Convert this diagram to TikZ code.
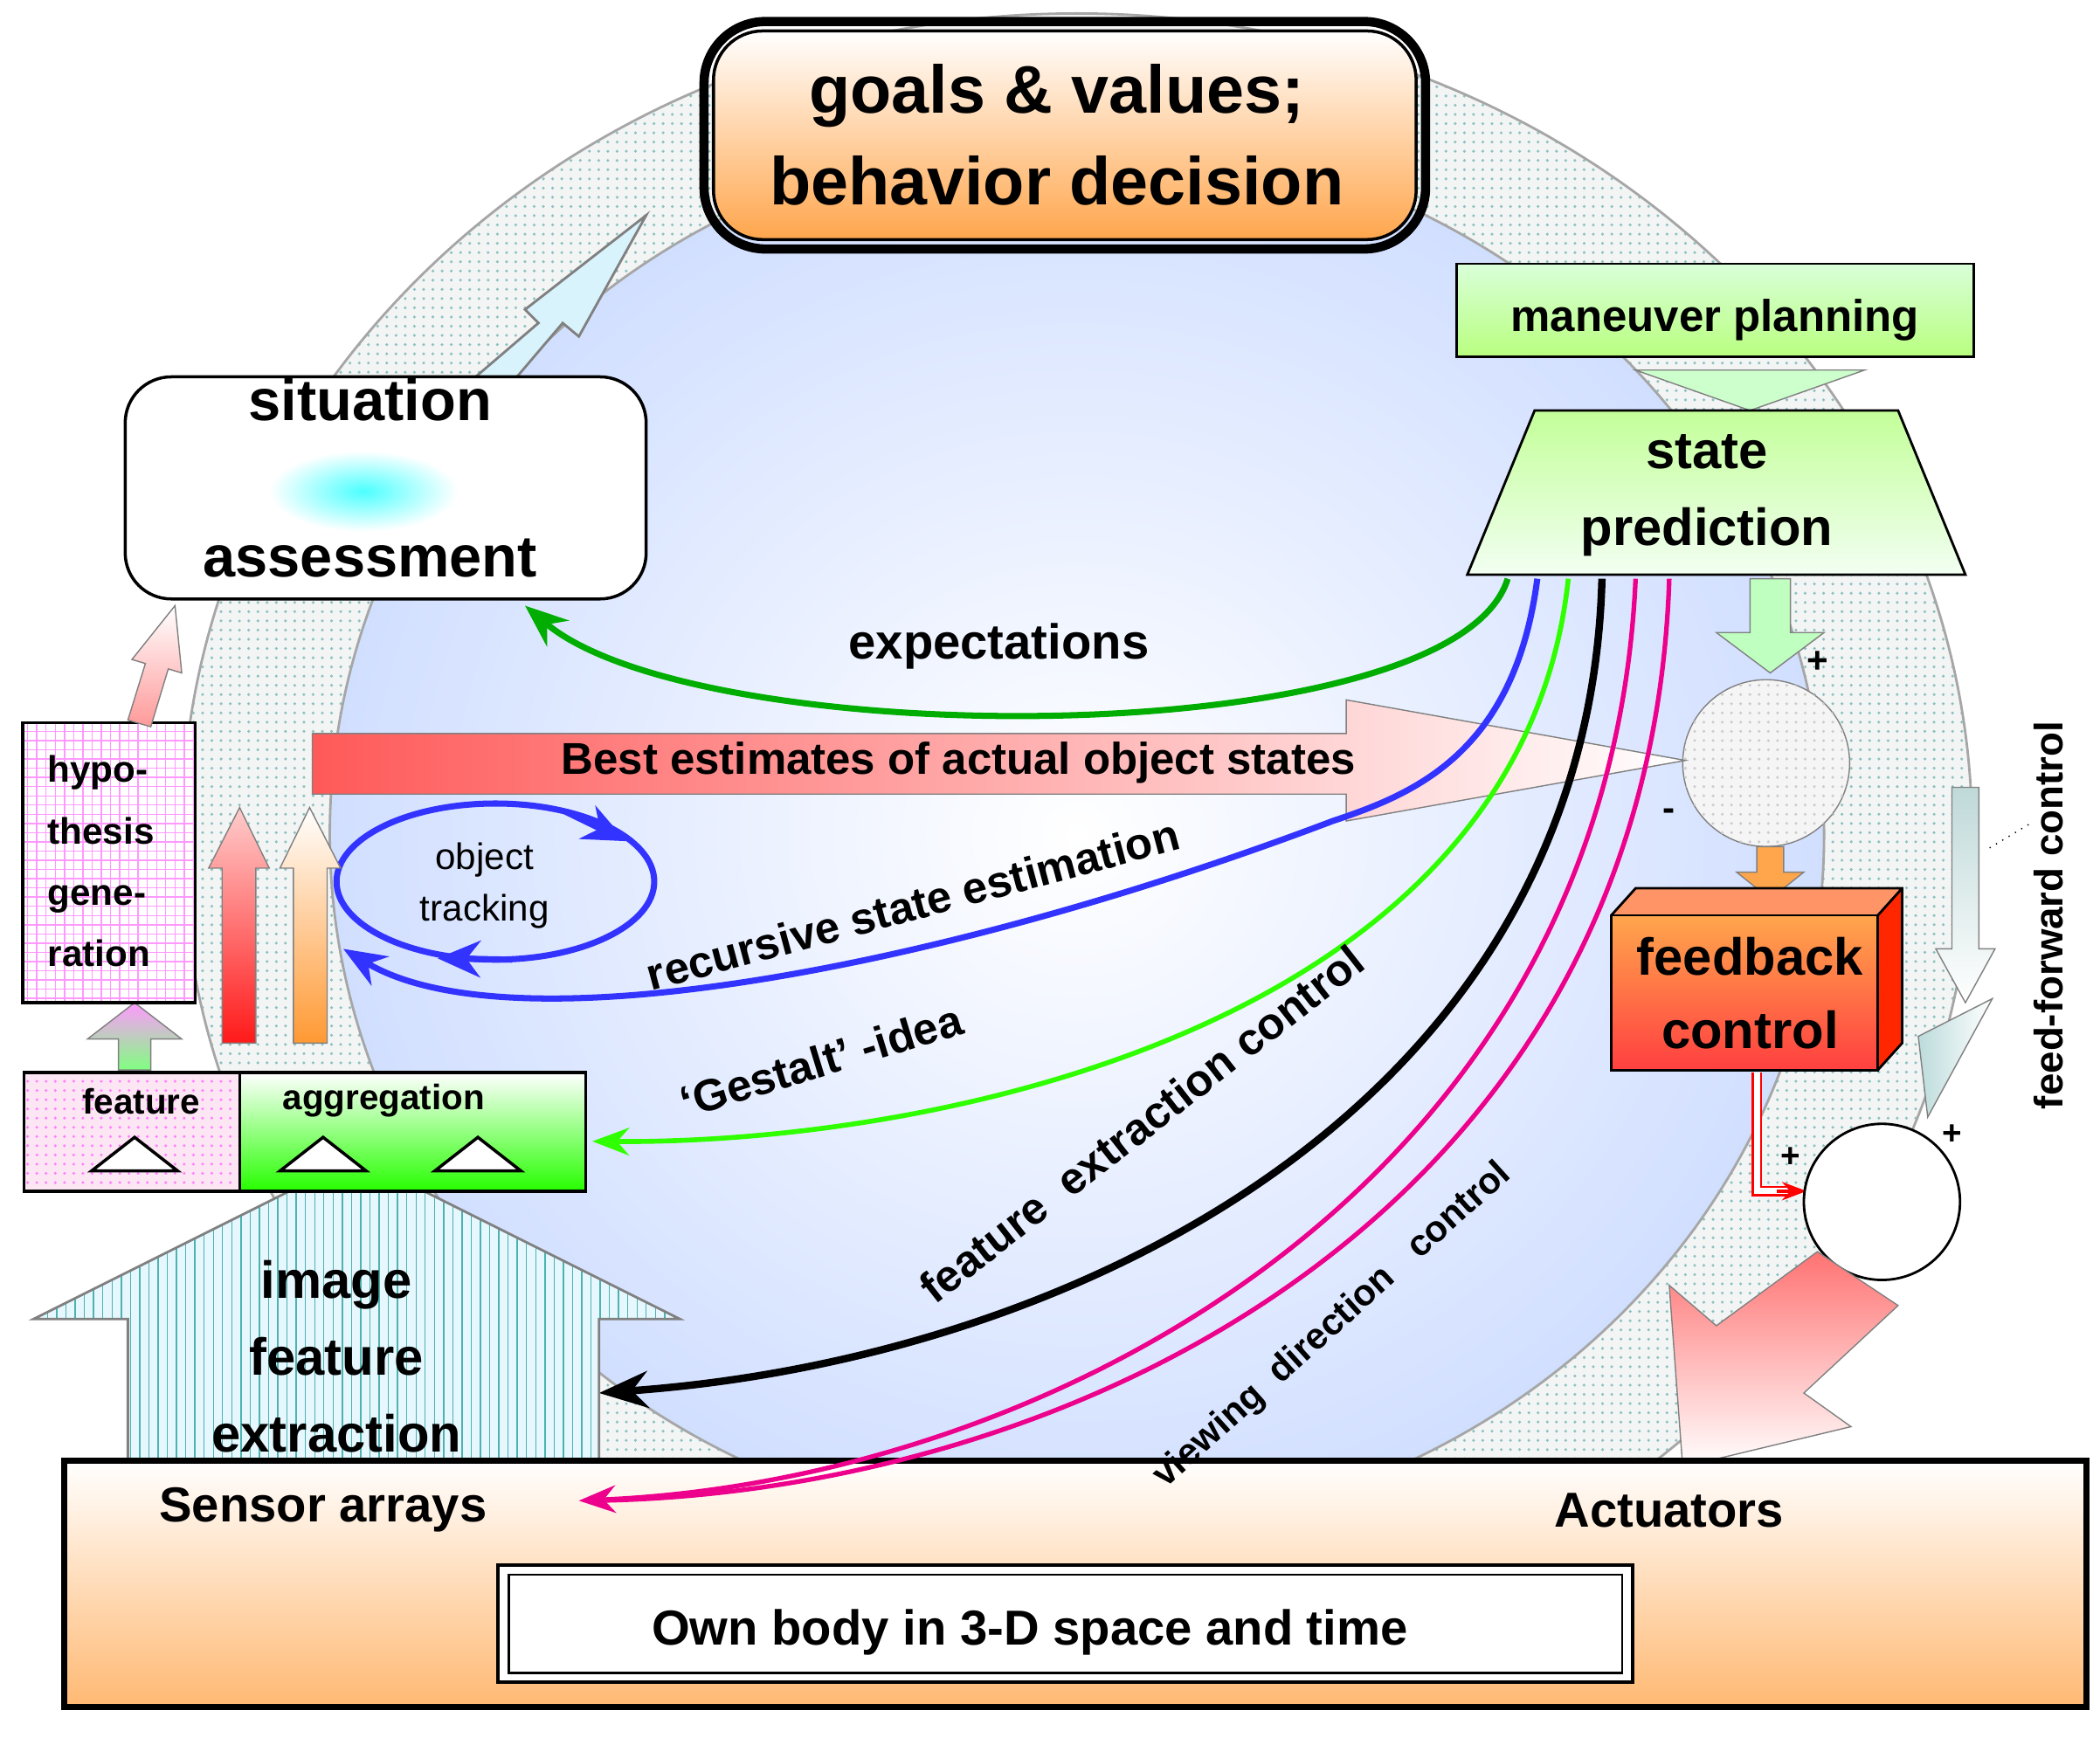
\documentclass[tikz,border=0pt]{standalone}
\usepackage{fontspec}
\setmainfont{Liberation Sans}
\usetikzlibrary{arrows.meta,patterns,shapes.geometric,shadows}
\begin{document}
\begin{tikzpicture}[x=0.01541cm,y=-0.01541cm,
  fs/.style={font=\fontsize{#1}{#1}\selectfont\bfseries}]
\useasboundingbox (0,0) rectangle (1560,1296);
\fill[white] (0,0) rectangle (1560,1296);
% ring
\fill[cyan!5!gray!10] (800,620) ellipse [x radius=665,y radius=610];
\fill[pattern=dots,pattern color=cyan!30!gray!70] (800,620) ellipse [x radius=665,y radius=610];
\draw[gray!70,line width=0.8pt] (800,620) ellipse [x radius=665,y radius=610];
\shade[inner color=white,outer color=cyan!30!blue!18] (800,620) ellipse [x radius=555,y radius=520];
\draw[gray!70,line width=0.8pt] (800,620) ellipse [x radius=555,y radius=520];
% top-left hollow arrow
\draw[fill=cyan!15,line width=0.8pt,draw=gray] (330,300)--(400,240)--(390,230)--(480,160)--(430,250)--(418,240)--(350,320)--cycle;
% goals
\draw[line width=3pt,rounded corners=20pt] (523,16) rectangle (1059,185);
\shade[top color=white,bottom color=orange!70,rounded corners=16pt,draw=black,line width=1pt] (530,23) rectangle (1052,178);
\node[fs=22,align=center] (goals) at (785,100) {goals \& values;\\[8pt]behavior decision};
% situation
\draw[rounded corners=15pt,fill=white,line width=1pt] (93,280) rectangle (480,445);
\shade[inner color=cyan!70,outer color=white] (270,365) ellipse [x radius=70,y radius=30];
\node[fs=19,align=center] (sit) at (275,355) {situation\\[32pt]assessment};
% maneuver planning
\shade[top color=green!15,bottom color=green!40!lime!50,draw=black,line width=0.8pt] (1082,196) rectangle (1466,265);
\node[fs=14.5] (man) at (1274,238) {maneuver planning};
\draw[fill=green!20,draw=gray] (1215,275)--(1385,275)--(1300,305)--cycle;
% state prediction
\shade[top color=green!45!lime!40,bottom color=green!5,draw=black,line width=0.8pt] (1140,305)--(1410,305)--(1460,427)--(1090,427)--cycle;
\node[fs=17,align=center] (sp) at (1268,368) {state\\[8pt]prediction};
% down hollow arrow to sum1
\draw[fill=green!25,draw=gray] (1300,430)--(1330,430)--(1330,470)--(1355,470)--(1315,500)--(1275,470)--(1300,470)--cycle;
% sum circle 1
\draw[gray,fill=gray!8] (1312,567) circle [radius=62];
\fill[pattern=dots,pattern color=gray!40] (1312,567) circle [radius=62];
\node (s1) at (1312,567) {};
\node[fs=12] at (1350,492) {+};
\node[fs=12] at (1240,605) {-};
% orange arrow
\draw[fill=orange!70,draw=gray] (1305,629)--(1325,629)--(1325,648)--(1340,648)--(1315,668)--(1290,648)--(1305,648)--cycle;
% feedback box
\fill[orange!60!red!60] (1197,680)--(1215,660)--(1413,660)--(1395,680)--cycle;
\fill[red!70!orange] (1395,680)--(1413,660)--(1413,775)--(1395,795)--cycle;
\draw[line width=0.8pt] (1197,680)--(1215,660)--(1413,660)--(1413,775)--(1395,795) (1395,680)--(1413,660);
\shade[top color=orange!70,bottom color=red!75,draw=black,line width=0.8pt] (1197,680) rectangle (1395,795);
\node[fs=17,align=center] (fb) at (1300,738) {feedback\\[7pt]control};
% feedback to sum2
\draw[red,double=white,double distance=2pt,line width=0.7pt] (1305,797)--(1305,885)--(1328,885);
\draw[red,-{Stealth[length=8pt]},line width=1pt] (1320,885)--(1342,885);
\node[fs=11] at (1330,860) {+};
% sum circle 2
\draw[black,fill=white,line width=0.8pt] (1398,893) circle [radius=58];
\node (s2) at (1398,893) {};
\node[fs=11] at (1450,843) {+};
% big pink arrow from sum2
\shade[top color=red!55,bottom color=white,draw=gray] (1350,930)--(1410,970)--(1340,1035)--(1375,1060)--(1250,1090)--(1240,955)--(1275,985)--cycle;
% feed forward
\shade[top color=cyan!25!gray!40,bottom color=white,draw=gray] (1450,585)--(1470,585)--(1470,705)--(1482,705)--(1460,745)--(1438,705)--(1450,705)--cycle;
\shade[left color=cyan!30!gray!40,right color=white,draw=gray] (1425,770)--(1480,742)--(1432,830)--cycle;
\node[fs=13,rotate=90] (ff) at (1522,680) {feed-forward control};
\draw[dotted] (1478,630)--(1508,612);
% best estimates arrow
\shade[left color=red!65,right color=white,draw=gray] (232,545)--(1000,545)--(1000,520)--(1252,565)--(1000,610)--(1000,590)--(232,590)--cycle;
\node[fs=14.5] (best) at (712,567) {Best estimates of actual object states};
% curves
\draw[green!60!black!80!green,line width=2pt,-{Stealth[length=14pt,width=11pt]}] (1120,430) .. controls (1080,560) and (520,560) .. (390,450);
\node[fs=16] (exp) at (742,480) {expectations};
\draw[blue!80,line width=2pt,-{Stealth[length=14pt,width=11pt]}] (1142,430) .. controls (1125,560) and (1050,590) .. (990,610) .. controls (700,720) and (380,780) .. (255,705);
\node[fs=14.5,rotate=15] at (678,672) {recursive state estimation};
\draw[green!75!lime,line width=1.6pt,-{Stealth[length=12pt,width=9pt]}] (1165,430) .. controls (1130,760) and (700,850) .. (440,848);
\node[fs=14.5,rotate=17] at (610,788) {‘Gestalt’ -idea};
\draw[black,line width=2.4pt,-{Stealth[length=16pt,width=12pt]}] (1190,430) .. controls (1180,820) and (800,1010) .. (445,1035);
\node[fs=14.5,rotate=38] at (848,835) {feature\ \ extraction control};
% object tracking
\draw[blue!80,line width=2pt] (368,655) ellipse [x radius=118,y radius=58];
\draw[blue!80,line width=2pt,-{Stealth[length=14pt,width=12pt]}] (420,603) -- (465,625);
\draw[blue!80,line width=2pt,-{Stealth[length=14pt,width=12pt]}] (380,713) -- (325,712);
\node[font=\fontsize{12}{15}\selectfont,align=center] (ot) at (360,658) {object\\[2pt]tracking};
% image feature extraction
\fill[cyan!10] (95,1085)--(95,980)--(25,980)--(265,860)--(505,980)--(445,980)--(445,1085)--cycle;
\fill[pattern=vertical lines,pattern color=cyan!40!gray] (95,1085)--(95,980)--(25,980)--(265,860)--(505,980)--(445,980)--(445,1085)--cycle;
\draw[gray,line width=0.8pt] (95,1085)--(95,980)--(25,980)--(265,860)--(505,980)--(445,980)--(445,1085);
\node[fs=17,align=center] (ife) at (250,1008) {image\\[8pt]feature\\[8pt]extraction};
% feature aggregation
\fill[magenta!10] (18,797) rectangle (178,885);
\fill[pattern=dots,pattern color=magenta!50] (18,797) rectangle (178,885);
\shade[top color=white,bottom color=green!80!lime] (178,797) rectangle (435,885);
\draw[line width=1pt] (18,797) rectangle (435,885) (178,797)--(178,885);
\node[fs=11.5] (feat) at (105,818) {feature};
\node[fs=11.5] (agg) at (285,818) {aggregation};
\foreach \x in {100,240,355}{\draw[fill=white,line width=1pt] (\x-32,870)--(\x+32,870)--(\x,845)--cycle;}
% arrow feature -> hypothesis
\shade[top color=magenta!40,bottom color=green!50,draw=gray] (88,795)--(112,795)--(112,772)--(135,772)--(100,745)--(65,772)--(88,772)--cycle;
% hypothesis box
\fill[white] (17,537) rectangle (145,745);
\fill[pattern=grid,pattern color=magenta!40] (17,537) rectangle (145,745);
\draw[line width=1pt] (17,537) rectangle (145,745);
\node[fs=12,align=left] (hyp) at (75,640) {hypo-\\[8pt]thesis\\[8pt]gene-\\[8pt]ration};
% arrow hyp -> situation
\shade[top color=white,bottom color=red!40,draw=gray] (95,535)--(108,493)--(98,490)--(130,450)--(135,500)--(125,497)--(112,540)--cycle;
% red & orange arrows
\shade[top color=red!20,bottom color=red!90,draw=gray] (165,775)--(190,775)--(190,645)--(200,645)--(178,600)--(155,645)--(165,645)--cycle;
\shade[top color=white,bottom color=orange!80,draw=gray] (218,775)--(243,775)--(243,645)--(253,645)--(230,600)--(208,645)--(218,645)--cycle;
% bottom box
\shade[top color=white,bottom color=orange!55,draw=black,line width=2pt] (48,1085) rectangle (1550,1268);
\node[fs=16] (sens) at (240,1122) {Sensor arrays};
\node[fs=16] (act) at (1240,1122) {Actuators};
\draw[fill=white,line width=1.2pt] (370,1163) rectangle (1213,1250);
\draw[line width=0.8pt] (378,1170) rectangle (1205,1243);
\node[fs=16] (own) at (765,1213) {Own body in 3-D space and time};
% viewing direction control (on top of box)
\draw[magenta,line width=1.5pt] (1240,430) .. controls (1225,900) and (800,1110) .. (440,1115);
\draw[magenta,line width=1.5pt,-{Stealth[length=12pt,width=9pt]}] (1215,430) .. controls (1195,880) and (780,1100) .. (430,1115);
\node[fs=12,rotate=42] at (990,985) {viewing\ \ direction\ \ \ control};
\end{tikzpicture}
\end{document}
